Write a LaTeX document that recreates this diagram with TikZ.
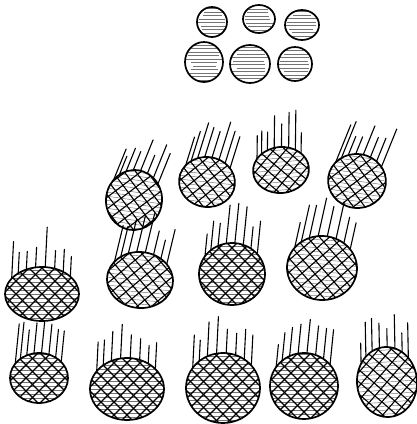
\documentclass[tikz,border=0pt]{standalone}
\usetikzlibrary{calc}

\tikzset{
  rim/.style={line width=1.7pt},
  hair/.style={line width=1.1pt, line cap=round},
  net/.style={line width=1.1pt},
  streak/.style={line width=0.45pt, black!55},
  % hatched round body, #1 = half width, #2 = half height
  pics/grain/.style args={#1/#2}{code={
    \fill[white] (0,0) ellipse ({#1} and {#2});
    \begin{scope}
      \clip (0,0) ellipse ({#1} and {#2});
      \foreach \y in {-24,-20.5,...,24}
        \draw[streak] ({-#1+8*rnd},\y) -- ({#1-8*rnd},\y);
    \end{scope}
    \draw[rim] (0,0) ellipse ({#1} and {#2});
  }},
  % netted body with bristles, #3 = lean of the bristles
  pics/cell/.style args={#1/#2/#3}{code={
    \fill[white] (0,0) ellipse ({#1} and {#2});
    \begin{scope}
      \clip (0,0) ellipse ({#1} and {#2});
      \foreach \y in {-40,-36,...,40}
        \draw[streak] (-45,\y) -- (45,\y);
      \foreach \d in {-91,-78,...,91} {
        \draw[net] (\d-40,-40) -- (\d+40,40);
        \draw[net] (\d-40,40) -- (\d+40,-40);
      }
    \end{scope}
    \draw[rim] (0,0) ellipse ({#1} and {#2});
    \foreach \a in {40,55,...,150} {
      \pgfmathsetmacro\len{18+22*rnd}
      \draw[hair] ({#1*cos(\a)},{-#2*sin(\a)}) -- ++({#3*\len},{-\len});
    }
  }}
}

\begin{document}
\begin{tikzpicture}[x=1pt, y=-1pt]
  \pgfmathsetseed{11}
  \useasboundingbox (0,0) rectangle (417,424);

  % small grains on top
  \pic at (212,22) {grain=15/15};
  \pic at (259,19) {grain=16/14};
  \pic at (302,25) {grain=17/15};
  \pic at (204,62) {grain=19/20};
  \pic at (250,64) {grain=20/19};
  \pic at (295,64) {grain=17/17};

  % first row
  \pic[rotate=-8] at (134,200) {cell=28/30/0.25};
  \pic[rotate=-6] at (207,182) {cell=28/25/0.2};
  \pic[rotate=5]  at (281,170) {cell=28/23/0.1};
  \pic[rotate=-8] at (357,181) {cell=29/27/0.25};

  % second row
  \pic at (42,294)  {cell=37/27/0.05};
  \pic[rotate=-5] at (140,280) {cell=33/28/0.15};
  \pic at (232,274) {cell=33/31/0.1};
  \pic[rotate=-4] at (322,268) {cell=35/32/0.15};

  % third row
  \pic at (39,378)  {cell=29/25/0.1};
  \pic at (127,389) {cell=37/31/0.05};
  \pic at (223,388) {cell=37/35/0.05};
  \pic at (304,386) {cell=34/33/0.1};
  \pic[rotate=4] at (387,382) {cell=30/35/0.05};
\end{tikzpicture}
\end{document}
